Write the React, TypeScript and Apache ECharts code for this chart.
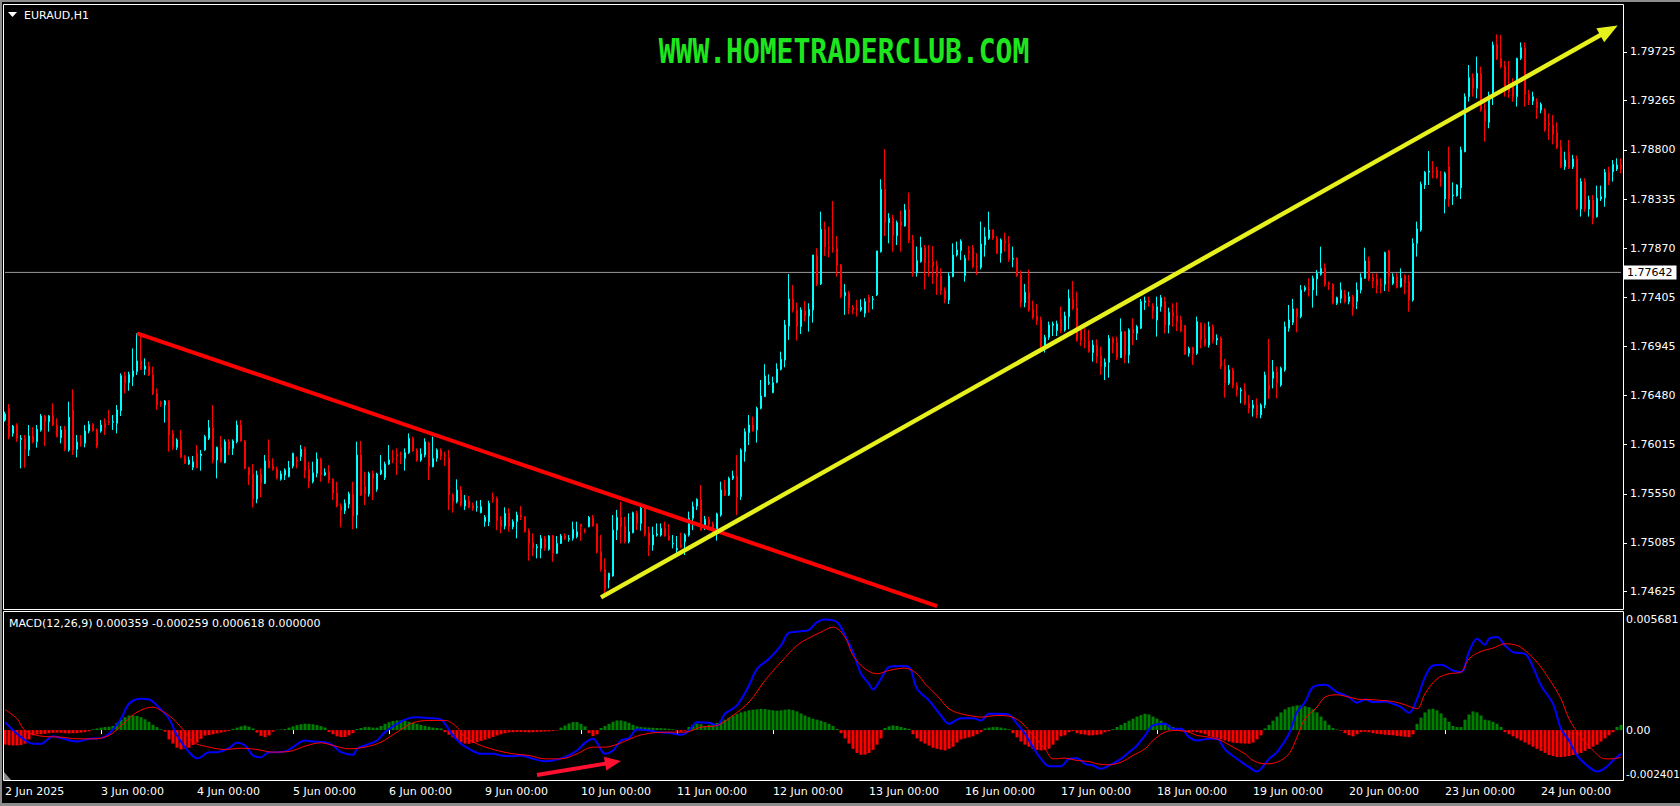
import React, { useEffect, useRef } from 'react';
import * as echarts from 'echarts';

const FONT = 'Tahoma, "DejaVu Sans", sans-serif';

const tradingDays = ['2 Jun', '3 Jun', '4 Jun', '5 Jun', '6 Jun', '9 Jun', '10 Jun', '11 Jun', '12 Jun', '13 Jun', '16 Jun', '17 Jun', '18 Jun', '19 Jun', '20 Jun', '23 Jun', '24 Jun'];
const firstDateLabel = '2 Jun 2025';

// hourly bars per day: [open, high, low, close]
const jun02 = [
[1.76247,1.76326,1.76231,1.76304],[1.76357,1.76398,1.76064,1.76090],[1.76121,1.76200,1.76090,1.76190],[1.76200,1.76216,1.76042,1.76074],
[1.76064,1.76105,1.75790,1.76074],[1.76074,1.76105,1.75797,1.75970],[1.75964,1.76200,1.75907,1.76096],[1.76096,1.76178,1.76027,1.76042],
[1.76042,1.76200,1.75986,1.76159],[1.76153,1.76304,1.76137,1.76285],[1.76285,1.76294,1.76001,1.76231],[1.76231,1.76294,1.76137,1.76285],
[1.76285,1.76405,1.76190,1.76200],[1.76200,1.76263,1.76083,1.76090],[1.76080,1.76190,1.76027,1.76153],[1.76159,1.76190,1.75954,1.75970],
[1.75964,1.76420,1.75948,1.76272],[1.76342,1.76537,1.75916,1.75964],[1.75970,1.76105,1.75894,1.76039],[1.76039,1.76105,1.75995,1.76033],
[1.76027,1.76200,1.75989,1.76143],[1.76143,1.76238,1.76121,1.76206],[1.76206,1.76216,1.76137,1.76146],[1.76153,1.76168,1.75979,1.76001]];
const jun03 = [
[1.76143,1.76247,1.76127,1.76200],[1.76216,1.76263,1.76105,1.76175],[1.76234,1.76342,1.76200,1.76225],[1.76225,1.76294,1.76153,1.76234],
[1.76216,1.76389,1.76121,1.76342],[1.76335,1.76688,1.76285,1.76666],[1.76666,1.76704,1.76499,1.76594],[1.76600,1.76704,1.76524,1.76679],
[1.76657,1.76924,1.76568,1.76710],[1.76704,1.77066,1.76672,1.76805],[1.76805,1.77040,1.76720,1.76726],[1.76726,1.76830,1.76672,1.76757],
[1.76757,1.76798,1.76663,1.76672],[1.76672,1.76751,1.76483,1.76493],[1.76499,1.76546,1.76342,1.76389],[1.76411,1.76430,1.76373,1.76401],
[1.76389,1.76436,1.76222,1.76427],[1.76427,1.76436,1.75948,1.76105],[1.76121,1.76153,1.75964,1.75989],[1.75989,1.76074,1.75964,1.76058],
[1.76058,1.76153,1.75885,1.75894],[1.75901,1.75916,1.75831,1.75838],[1.75831,1.75901,1.75822,1.75869],[1.75800,1.75907,1.75774,1.75853]];
const jun04 = [
[1.75932,1.76011,1.75790,1.75797],[1.75910,1.75964,1.75768,1.75926],[1.75964,1.76105,1.75957,1.76090],[1.76074,1.76247,1.76058,1.76175],
[1.76175,1.76389,1.75838,1.75869],[1.75869,1.75995,1.75696,1.75989],[1.75989,1.76096,1.75844,1.75853],[1.75844,1.76064,1.75838,1.76042],
[1.76042,1.76064,1.75916,1.75970],[1.75979,1.76064,1.75916,1.76049],[1.76042,1.76241,1.76027,1.76200],[1.76200,1.76247,1.76042,1.76049],
[1.76049,1.76058,1.75781,1.75790],[1.75797,1.75806,1.75633,1.75727],[1.75737,1.75831,1.75422,1.75501],[1.75501,1.75768,1.75460,1.75727],
[1.75734,1.75790,1.75516,1.75649],[1.75649,1.75916,1.75642,1.75860],[1.75860,1.76064,1.75790,1.75797],[1.75812,1.75885,1.75768,1.75781],
[1.75784,1.75806,1.75686,1.75696],[1.75686,1.75768,1.75674,1.75737],[1.75727,1.75790,1.75680,1.75774],[1.75712,1.75860,1.75705,1.75797]];
const jun05 = [
[1.75812,1.75938,1.75790,1.75932],[1.75869,1.75901,1.75790,1.75860],[1.75901,1.76011,1.75860,1.75970],[1.75976,1.75995,1.75696,1.75768],
[1.75784,1.75853,1.75601,1.75664],[1.75664,1.75853,1.75648,1.75749],[1.75743,1.75941,1.75705,1.75878],[1.75878,1.75891,1.75664,1.75727],
[1.75727,1.75790,1.75718,1.75752],[1.75756,1.75822,1.75649,1.75680],[1.75689,1.75696,1.75491,1.75554],[1.75560,1.75664,1.75422,1.75434],
[1.75434,1.75460,1.75233,1.75390],[1.75390,1.75497,1.75359,1.75460],[1.75453,1.75570,1.75412,1.75548],[1.75548,1.75664,1.75214,1.75340],
[1.75349,1.76042,1.75223,1.75916],[1.75916,1.76049,1.75529,1.75538],[1.75617,1.75759,1.75444,1.75548],[1.75548,1.75759,1.75523,1.75743],
[1.75743,1.75768,1.75491,1.75696],[1.75592,1.75749,1.75570,1.75737],[1.75737,1.75916,1.75727,1.75774],[1.75702,1.75853,1.75680,1.75831]];
const jun06 = [
[1.75831,1.76011,1.75822,1.75869],[1.75885,1.75964,1.75838,1.75875],[1.75923,1.75979,1.75727,1.75907],[1.75926,1.75948,1.75831,1.75916],
[1.75885,1.75979,1.75768,1.75938],[1.75938,1.76121,1.75926,1.76074],[1.76074,1.76090,1.75948,1.75957],[1.75964,1.75979,1.75853,1.75869],
[1.75869,1.75979,1.75853,1.75926],[1.75916,1.76074,1.75894,1.76042],[1.76027,1.76042,1.75680,1.75806],[1.75806,1.76090,1.75800,1.75885],
[1.75885,1.75979,1.75853,1.75964],[1.75964,1.75979,1.75869,1.75907],[1.75916,1.75948,1.75812,1.75901],[1.75891,1.75964,1.75397,1.75538],
[1.75538,1.75554,1.75371,1.75475],[1.75475,1.75686,1.75460,1.75585],[1.75585,1.75623,1.75428,1.75444],[1.75434,1.75538,1.75397,1.75491],
[1.75485,1.75529,1.75412,1.75422],[1.75437,1.75466,1.75390,1.75412],[1.75422,1.75485,1.75381,1.75428],[1.75371,1.75491,1.75365,1.75428]];
const jun09 = [
[1.75286,1.75349,1.75239,1.75327],[1.75286,1.75485,1.75245,1.75460],[1.75516,1.75560,1.75466,1.75504],[1.75507,1.75523,1.75207,1.75296],
[1.75302,1.75340,1.75176,1.75239],[1.75245,1.75422,1.75214,1.75365],[1.75371,1.75412,1.75192,1.75239],[1.75239,1.75308,1.75214,1.75286],
[1.75286,1.75381,1.75129,1.75349],[1.75349,1.75434,1.75302,1.75327],[1.75333,1.75340,1.75182,1.75192],[1.75201,1.75223,1.74918,1.75081],
[1.75091,1.75176,1.74962,1.75034],[1.75041,1.75075,1.74940,1.75050],[1.75034,1.75160,1.74940,1.75129],[1.75129,1.75151,1.75012,1.75034],
[1.75025,1.75160,1.75012,1.75151],[1.75151,1.75160,1.74908,1.74987],[1.74987,1.75151,1.74981,1.75081],[1.75081,1.75170,1.75075,1.75151],
[1.75151,1.75176,1.75113,1.75129],[1.75119,1.75160,1.75097,1.75129],[1.75129,1.75286,1.75107,1.75214],[1.75145,1.75286,1.75129,1.75192]];
const jun10 = [
[1.75264,1.75264,1.75107,1.75239],[1.75207,1.75223,1.75176,1.75198],[1.75239,1.75340,1.75233,1.75327],[1.75327,1.75349,1.75239,1.75245],
[1.75264,1.75270,1.74987,1.75003],[1.75003,1.75160,1.74814,1.74836],[1.74836,1.74940,1.74609,1.74647],[1.74735,1.74804,1.74656,1.74798],
[1.74773,1.75349,1.74767,1.75207],[1.75207,1.75397,1.75113,1.75327],[1.75327,1.75475,1.75081,1.75239],[1.75245,1.75333,1.75081,1.75097],
[1.75097,1.75365,1.75081,1.75192],[1.75182,1.75381,1.75176,1.75371],[1.75371,1.75390,1.75207,1.75270],[1.75270,1.75434,1.75201,1.75412],
[1.75412,1.75422,1.75145,1.75170],[1.75182,1.75239,1.74962,1.75066],[1.75066,1.75239,1.75012,1.75160],[1.75160,1.75270,1.75145,1.75170],
[1.75160,1.75270,1.75145,1.75223],[1.75223,1.75286,1.75145,1.75151],[1.75151,1.75264,1.75107,1.75113],[1.75075,1.75160,1.75034,1.75081]];
const jun11 = [
[1.75019,1.75151,1.74987,1.75034],[1.75066,1.75182,1.75034,1.75050],[1.75097,1.75176,1.74971,1.75160],[1.75160,1.75381,1.75145,1.75318],
[1.75318,1.75475,1.75207,1.75428],[1.75434,1.75507,1.75397,1.75497],[1.75497,1.75633,1.75201,1.75207],[1.75245,1.75340,1.75207,1.75308],
[1.75308,1.75333,1.75223,1.75255],[1.75264,1.75286,1.75192,1.75214],[1.75214,1.75371,1.75107,1.75359],[1.75349,1.75664,1.75333,1.75585],
[1.75585,1.75680,1.75529,1.75538],[1.75538,1.75711,1.75529,1.75696],[1.75696,1.75768,1.75680,1.75718],[1.75718,1.75916,1.75349,1.75516],
[1.75523,1.75979,1.75491,1.75964],[1.75948,1.76168,1.75853,1.76137],[1.76127,1.76294,1.76011,1.76200],[1.76200,1.76279,1.76137,1.76146],
[1.76153,1.76373,1.76033,1.76357],[1.76357,1.76625,1.76348,1.76474],[1.76468,1.76774,1.76468,1.76663],[1.76594,1.76679,1.76578,1.76603]];
const jun12 = [
[1.76506,1.76657,1.76500,1.76600],[1.76603,1.76783,1.76594,1.76729],[1.76726,1.76893,1.76714,1.76821],[1.76815,1.77193,1.76745,1.77145],
[1.77136,1.77627,1.77004,1.77391],[1.77391,1.77523,1.77262,1.77287],[1.77287,1.77356,1.76997,1.77130],[1.77130,1.77312,1.77060,1.77287],
[1.77278,1.77372,1.77177,1.77230],[1.77230,1.77350,1.77082,1.77293],[1.77287,1.77807,1.77167,1.77807],[1.77797,1.77870,1.77514,1.77533],
[1.77533,1.78216,1.77523,1.78049],[1.78049,1.78122,1.77797,1.77879],[1.77879,1.78075,1.77785,1.77867],[1.77873,1.78317,1.77829,1.77863],
[1.77870,1.77986,1.77602,1.77703],[1.77712,1.77722,1.77397,1.77413],[1.77422,1.77533,1.77240,1.77454],[1.77445,1.77467,1.77246,1.77309],
[1.77312,1.77334,1.77246,1.77287],[1.77303,1.77382,1.77224,1.77287],[1.77287,1.77388,1.77271,1.77312],[1.77256,1.77397,1.77218,1.77366]];
const jun13 = [
[1.77407,1.77429,1.77262,1.77356],[1.77385,1.77419,1.77293,1.77391],[1.77429,1.77845,1.77419,1.77845],[1.77838,1.78522,1.77829,1.78427],
[1.78427,1.78808,1.77986,1.78112],[1.78112,1.78201,1.77917,1.78153],[1.78153,1.78185,1.77838,1.77989],[1.77989,1.78131,1.77901,1.78112],
[1.78122,1.78226,1.77838,1.78081],[1.78081,1.78289,1.78075,1.78232],[1.78238,1.78396,1.77917,1.77942],[1.77949,1.77996,1.77602,1.77640],
[1.77640,1.77886,1.77602,1.77753],[1.77744,1.77980,1.77734,1.77876],[1.77876,1.77901,1.77482,1.77734],[1.77744,1.77901,1.77602,1.77734],
[1.77744,1.77892,1.77533,1.77697],[1.77703,1.77753,1.77429,1.77602],[1.77608,1.77681,1.77429,1.77470],[1.77476,1.77501,1.77350,1.77388],
[1.77382,1.77640,1.77344,1.77608],[1.77602,1.77917,1.77596,1.77807],[1.77807,1.77933,1.77791,1.77854],[1.77848,1.77955,1.77760,1.77939]];
const jun16 = [
[1.77611,1.77807,1.77555,1.77775],[1.77845,1.77892,1.77753,1.77823],[1.77876,1.77901,1.77681,1.77697],[1.77703,1.77823,1.77618,1.77690],
[1.77690,1.78122,1.77671,1.77911],[1.77901,1.78068,1.77791,1.77980],[1.77964,1.78216,1.77949,1.78043],[1.78043,1.78049,1.77949,1.77964],
[1.77964,1.77986,1.77816,1.77823],[1.77823,1.77964,1.77734,1.77949],[1.77942,1.78018,1.77838,1.77917],[1.77917,1.77986,1.77744,1.77766],
[1.77766,1.77886,1.77690,1.77775],[1.77775,1.77785,1.77602,1.77608],[1.77618,1.77659,1.77312,1.77356],[1.77356,1.77533,1.77312,1.77454],
[1.77454,1.77671,1.77271,1.77287],[1.77293,1.77375,1.77199,1.77218],[1.77230,1.77344,1.77145,1.77186],[1.77193,1.77224,1.76925,1.76947],
[1.76947,1.77051,1.76884,1.77029],[1.77029,1.77177,1.77004,1.77145],[1.77142,1.77177,1.77041,1.77155],[1.77092,1.77186,1.77041,1.77155]];
const jun17 = [
[1.77199,1.77319,1.77067,1.77092],[1.77098,1.77271,1.77082,1.77230],[1.77224,1.77482,1.77104,1.77397],[1.77388,1.77561,1.77287,1.77303],
[1.77309,1.77460,1.76988,1.76997],[1.77098,1.77145,1.76947,1.76997],[1.76997,1.77114,1.76925,1.76991],[1.76997,1.77098,1.76884,1.76893],
[1.76884,1.77004,1.76799,1.76956],[1.76956,1.77010,1.76783,1.76846],[1.76855,1.76940,1.76672,1.76751],[1.76751,1.76830,1.76625,1.76792],
[1.76792,1.77050,1.76647,1.77019],[1.77019,1.77035,1.76877,1.76972],[1.76981,1.77035,1.76814,1.76836],[1.76836,1.77208,1.76836,1.77082],
[1.77082,1.77088,1.76783,1.76862],[1.76862,1.77114,1.76783,1.77098],[1.77107,1.77208,1.76956,1.77066],[1.77066,1.77145,1.77003,1.77129],
[1.77114,1.77391,1.77107,1.77366],[1.77359,1.77413,1.77287,1.77372],[1.77372,1.77413,1.77318,1.77359],[1.77325,1.77350,1.77202,1.77277]];
const jun18 = [
[1.77192,1.77413,1.77035,1.77318],[1.77318,1.77428,1.77271,1.77403],[1.77366,1.77413,1.77066,1.77145],[1.77145,1.77309,1.77066,1.77265],
[1.77265,1.77350,1.77129,1.77224],[1.77233,1.77359,1.77088,1.77177],[1.77192,1.77233,1.77076,1.77088],[1.77139,1.77145,1.76862,1.76868],
[1.76877,1.76940,1.76846,1.76925],[1.76931,1.76940,1.76767,1.76877],[1.76877,1.77224,1.76862,1.77177],[1.77161,1.77170,1.76925,1.77003],
[1.77019,1.77161,1.76940,1.76956],[1.76956,1.77177,1.76931,1.77129],[1.77129,1.77151,1.76972,1.77003],[1.77003,1.77057,1.76956,1.77019],
[1.77019,1.77035,1.76729,1.76751],[1.76761,1.76824,1.76458,1.76594],[1.76594,1.76767,1.76578,1.76720],[1.76720,1.76742,1.76547,1.76572],
[1.76578,1.76603,1.76468,1.76531],[1.76521,1.76553,1.76405,1.76531],[1.76521,1.76594,1.76389,1.76405],[1.76405,1.76484,1.76310,1.76358]];
const jun19 = [
[1.76358,1.76436,1.76279,1.76389],[1.76389,1.76452,1.76263,1.76295],[1.76295,1.76405,1.76263,1.76389],[1.76389,1.76704,1.76358,1.76672],
[1.76578,1.77013,1.76446,1.76531],[1.76641,1.76814,1.76546,1.76704],[1.76704,1.76751,1.76452,1.76594],[1.76578,1.76751,1.76562,1.76736],
[1.76720,1.77177,1.76704,1.77129],[1.77114,1.77334,1.77082,1.77192],[1.77170,1.77391,1.77145,1.77296],[1.77296,1.77303,1.77076,1.77224],
[1.77224,1.77523,1.77208,1.77476],[1.77476,1.77517,1.77460,1.77498],[1.77485,1.77586,1.77413,1.77476],[1.77476,1.77611,1.77309,1.77586],
[1.77580,1.77665,1.77422,1.77633],[1.77624,1.77885,1.77611,1.77680],[1.77687,1.77728,1.77507,1.77529],[1.77539,1.77555,1.77476,1.77529],
[1.77529,1.77539,1.77340,1.77350],[1.77350,1.77413,1.77334,1.77403],[1.77397,1.77548,1.77350,1.77476],[1.77435,1.77476,1.77350,1.77366]];
const jun20 = [
[1.77366,1.77460,1.77340,1.77413],[1.77413,1.77428,1.77233,1.77309],[1.77366,1.77548,1.77296,1.77476],[1.77476,1.77633,1.77444,1.77592],
[1.77586,1.77876,1.77580,1.77750],[1.77750,1.77791,1.77561,1.77580],[1.77592,1.77633,1.77492,1.77561],[1.77580,1.77633,1.77444,1.77517],
[1.77529,1.77586,1.77444,1.77517],[1.77529,1.77838,1.77466,1.77829],[1.77844,1.77854,1.77460,1.77602],[1.77539,1.77633,1.77523,1.77602],
[1.77602,1.77633,1.77491,1.77498],[1.77507,1.77680,1.77498,1.77586],[1.77611,1.77624,1.77435,1.77539],[1.77555,1.77618,1.77271,1.77381],
[1.77381,1.77964,1.77366,1.77917],[1.77917,1.78122,1.77791,1.78052],[1.78043,1.78500,1.78027,1.78474],[1.78468,1.78600,1.78430,1.78588],
[1.78588,1.78789,1.78468,1.78600],[1.78600,1.78695,1.78531,1.78588],[1.78610,1.78641,1.78525,1.78537],[1.78506,1.78600,1.78452,1.78506]];
const jun23 = [
[1.78336,1.78594,1.78200,1.78578],[1.78641,1.78830,1.78263,1.78336],[1.78367,1.78493,1.78279,1.78374],[1.78367,1.78474,1.78358,1.78468],
[1.78443,1.78830,1.78336,1.78799],[1.78783,1.79334,1.78777,1.79303],[1.79303,1.79602,1.79256,1.79482],[1.79482,1.79523,1.79303,1.79382],
[1.79382,1.79681,1.79287,1.79523],[1.79523,1.79586,1.79161,1.79177],[1.79186,1.79240,1.78878,1.79067],[1.79060,1.79350,1.79004,1.79319],
[1.79312,1.79822,1.79224,1.79791],[1.79797,1.79892,1.79649,1.79659],[1.79665,1.79885,1.79571,1.79586],[1.79593,1.79640,1.79303,1.79397],
[1.79404,1.79640,1.79293,1.79350],[1.79397,1.79476,1.79256,1.79303],[1.79303,1.79671,1.79208,1.79665],[1.79665,1.79816,1.79649,1.79766],
[1.79766,1.79816,1.79208,1.79319],[1.79325,1.79366,1.79224,1.79271],[1.79262,1.79350,1.79224,1.79303],[1.79256,1.79287,1.79092,1.79193]];
const jun24 = [
[1.79177,1.79249,1.79145,1.79230],[1.79177,1.79193,1.78972,1.78988],[1.79051,1.79145,1.78893,1.79035],[1.79035,1.79130,1.78852,1.78947],
[1.78966,1.79060,1.78808,1.78821],[1.78830,1.78893,1.78626,1.78641],[1.78641,1.78783,1.78610,1.78704],[1.78777,1.78893,1.78619,1.78632],
[1.78641,1.78752,1.78619,1.78714],[1.78714,1.78745,1.78232,1.78247],[1.78241,1.78531,1.78169,1.78500],[1.78500,1.78531,1.78216,1.78241],
[1.78241,1.78367,1.78169,1.78326],[1.78326,1.78373,1.78096,1.78153],[1.78169,1.78462,1.78159,1.78342],[1.78336,1.78462,1.78317,1.78358],
[1.78348,1.78619,1.78263,1.78588],[1.78588,1.78641,1.78468,1.78506],[1.78594,1.78704,1.78500,1.78663],[1.78619,1.78720,1.78600,1.78657],
[1.78657,1.78720,1.78578,1.78619]];

const priceTicks = [1.74625, 1.75085, 1.75550, 1.76015, 1.76480, 1.76945, 1.77405, 1.77870, 1.78335, 1.78800, 1.79265, 1.79725];
const priceMin = 1.74461;
const priceMax = 1.80169;
const levelLine = 1.77642;

const macdTicks = [-0.002401, 0, 0.005681];
const macdMin = -0.002401;
const macdMax = 0.005681;

// trend lines anchored as [bar index, price]
const downTrend = [[33, 1.77066], [233, 1.74489]];
const upTrend = [[149, 1.74571], [401, 1.79930]];
const macdArrow = [[133, -0.002165], [152, -0.001554]];

// MACD main line [bar index, value]
const macdMain = [
[0,0.000383],[4,-0.000339],[7,-0.000660],[9,-0.000660],[12,-0.000291],[14,-0.000387],[18,-0.000547],[21,-0.000419],[24,-0.000387],[26,-0.000178],
[29,0.000543],[31,0.001265],[34,0.001506],[36,0.001474],[38,0.001185],[41,0.000543],[43,-0.000259],[46,-0.001061],[48,-0.001350],[49,-0.001301],
[51,-0.001061],[53,-0.001061],[56,-0.000868],[58,-0.000612],[60,-0.000740],[62,-0.001221],[64,-0.001301],[66,-0.001061],[68,-0.001061],[70,-0.001029],
[72,-0.000820],[75,-0.000499],[77,-0.000547],[80,-0.000580],[82,-0.000740],[84,-0.001061],[87,-0.001189],[88,-0.000900],[90,-0.000740],[93,-0.000499],
[95,-0.000098],[98,0.000303],[101,0.000575],[103,0.000623],[106,0.000575],[109,0.000511],[110,0.000303],[112,-0.000259],[114,-0.000660],[116,-0.000900],
[119,-0.001141],[122,-0.001141],[124,-0.001221],[127,-0.001253],[129,-0.001221],[132,-0.001382],[135,-0.001494],[137,-0.001462],[140,-0.001301],[143,-0.000980],
[145,-0.000612],[147,-0.000419],[148,-0.000612],[150,-0.001141],[152,-0.000980],[154,-0.000499],[156,-0.000387],[158,0.000030],[161,-0.000018],[163,-0.000098],
[166,-0.000131],[169,-0.000227],[171,-0.000018],[173,0.000383],[176,0.000351],[178,0.000222],[180,0.000784],[183,0.001185],[186,0.002147],[188,0.002949],
[191,0.003430],[194,0.004072],[196,0.004682],[199,0.004750],[201,0.004820],[203,0.005195],[205,0.005323],[208,0.005195],[210,0.004553],[212,0.003751],
[214,0.002709],[216,0.002227],[217,0.001955],[219,0.002468],[221,0.003029],[224,0.003078],[226,0.003029],[228,0.001987],[231,0.001426],[234,0.000703],
[236,0.000303],[239,0.000575],[242,0.000575],[244,0.000463],[246,0.000784],[248,0.000784],[251,0.000736],[253,0.000303],[255,-0.000178],[257,-0.000820],
[259,-0.001382],[261,-0.001735],[264,-0.001735],[266,-0.001382],[268,-0.001350],[270,-0.001622],[272,-0.001702],[274,-0.001863],[276,-0.001702],[279,-0.001382],
[281,-0.001061],[283,-0.000740],[285,-0.000259],[287,0.000222],[290,0.000303],[292,0.000062],[294,0.000062],[296,-0.000339],[298,-0.000499],[301,-0.000419],
[303,-0.000419],[305,-0.000933],[308,-0.001382],[311,-0.001783],[313,-0.001991],[314,-0.001863],[316,-0.001382],[318,-0.001061],[321,-0.000178],[323,0.000864],
[325,0.001346],[327,0.002067],[330,0.002179],[333,0.001826],[336,0.001586],[338,0.001313],[340,0.001474],[342,0.001346],[345,0.001377],[347,0.001265],
[349,0.001105],[351,0.000832],[353,0.001506],[355,0.002548],[357,0.003110],[359,0.003142],[362,0.002869],[364,0.002789],[366,0.003751],[368,0.004393],
[370,0.004104],[371,0.004393],[373,0.004473],[375,0.004072],[377,0.003751],[380,0.003671],[382,0.003029],[384,0.002147],[387,0.001265],[389,0.000062],
[391,-0.000499],[393,-0.001221],[396,-0.001783],[398,-0.001991],[400,-0.001831],[402,-0.001462],[404,-0.001141]];

// MACD signal line [bar index, value]
const macdSignal = [
[0,0.000992],[3,0.000543],[5,-0.000018],[9,-0.000291],[14,-0.000339],[18,-0.000419],[22,-0.000419],[26,-0.000259],[30,0.000383],[33,0.000864],
[37,0.001105],[39,0.000944],[42,0.000543],[45,-0.000098],[47,-0.000580],[51,-0.000820],[55,-0.000933],[59,-0.000868],[63,-0.000933],[67,-0.001061],
[71,-0.001029],[75,-0.000772],[79,-0.000612],[82,-0.000740],[86,-0.000900],[90,-0.000820],[94,-0.000580],[98,-0.000098],[102,0.000351],[106,0.000463],
[110,0.000463],[113,0.000142],[115,-0.000339],[119,-0.000740],[123,-0.000980],[127,-0.001141],[131,-0.001221],[135,-0.001382],[139,-0.001382],[143,-0.001141],
[147,-0.000820],[150,-0.000820],[154,-0.000612],[158,-0.000291],[162,-0.000131],[166,-0.000098],[170,-0.000098],[174,0.000142],[178,0.000222],[182,0.000704],
[186,0.001346],[190,0.002388],[194,0.003270],[198,0.004072],[201,0.004433],[204,0.004714],[207,0.004954],[210,0.004473],[212,0.003591],[215,0.002949],
[218,0.002709],[221,0.002869],[225,0.002981],[228,0.002709],[230,0.002227],[233,0.001666],[236,0.001024],[239,0.000784],[242,0.000672],[244,0.000623],
[248,0.000704],[251,0.000672],[254,0.000383],[257,-0.000259],[260,-0.000900],[262,-0.001382],[265,-0.001350],[268,-0.001462],[271,-0.001510],[273,-0.001622],
[276,-0.001670],[279,-0.001542],[282,-0.001221],[285,-0.000900],[287,-0.000499],[290,-0.000098],[293,-0.000018],[296,-0.000098],[298,-0.000259],[301,-0.000339],
[304,-0.000499],[307,-0.000820],[310,-0.001141],[312,-0.001462],[315,-0.001622],[318,-0.001542],[321,-0.001141],[323,-0.000339],[325,0.000543],[328,0.001105],
[330,0.001586],[333,0.001698],[336,0.001586],[339,0.001474],[341,0.001474],[344,0.001426],[347,0.001377],[350,0.001217],[353,0.001024],[355,0.001746],
[358,0.002468],[361,0.002709],[364,0.002789],[366,0.003430],[369,0.003783],[372,0.003944],[375,0.004152],[378,0.004072],[380,0.003831],[383,0.003270],
[386,0.002468],[389,0.001506],[391,0.000543],[394,-0.000339],[397,-0.000980],[400,-0.001382],[402,-0.001382],[404,-0.001301]];

// MACD histogram, one value per bar
const histogram = [
-0.000700,-0.000730,-0.000740,-0.000740,-0.000720,-0.000650,-0.000450,-0.000250,-0.000200,-0.000200,-0.000180,-0.000150,-0.000130,-0.000120,-0.000130,-0.000150,-0.000160,-0.000150,-0.000140,-0.000120,-0.000100,-0.000060,0.000040,0.000080,
0.000120,0.000144,0.000160,0.000200,0.000350,0.000500,0.000620,0.000700,0.000706,0.000680,0.000620,0.000520,0.000400,0.000260,0.000140,0.000040,-0.000080,-0.000450,-0.000650,-0.000850,-0.000930,-0.000900,-0.000850,-0.000720,
-0.000600,-0.000420,-0.000260,-0.000240,-0.000200,-0.000160,-0.000120,-0.000080,-0.000040,0.000060,0.000120,0.000180,0.000220,0.000160,0.000080,-0.000120,-0.000280,-0.000337,-0.000260,-0.000080,0.000020,0.000030,0.000050,0.000120,
0.000180,0.000240,0.000280,0.000305,0.000300,0.000280,0.000240,0.000190,0.000120,-0.000100,-0.000200,-0.000300,-0.000337,-0.000330,-0.000250,-0.000150,0.000050,0.000100,0.000144,0.000144,0.000120,0.000120,0.000200,0.000300,
0.000380,0.000440,0.000465,0.000465,0.000450,0.000400,0.000350,0.000300,0.000250,0.000200,0.000160,0.000120,0.000100,0.000080,-0.000100,-0.000220,-0.000350,-0.000480,-0.000580,-0.000650,-0.000657,-0.000620,-0.000580,-0.000520,
-0.000460,-0.000400,-0.000330,-0.000260,-0.000200,-0.000150,-0.000110,-0.000100,-0.000090,-0.000090,-0.000100,-0.000110,-0.000100,-0.000090,-0.000080,-0.000070,-0.000060,-0.000040,-0.000020,0.000120,0.000220,0.000320,0.000385,0.000385,
0.000300,0.000180,-0.000150,-0.000289,-0.000200,0.000100,0.000200,0.000300,0.000400,0.000465,0.000465,0.000420,0.000350,0.000250,0.000180,0.000144,0.000130,0.000120,0.000110,0.000100,0.000090,0.000080,0.000060,0.000040,
-0.000060,-0.000080,-0.000040,0.000150,0.000250,0.000305,0.000280,0.000200,0.000250,0.000300,0.000350,0.000420,0.000500,0.000600,0.000700,0.000780,0.000850,0.000900,0.000950,0.000980,0.001000,0.001026,0.001010,0.000980,
0.000950,0.000930,0.000950,0.000980,0.001000,0.000960,0.000900,0.000800,0.000700,0.000620,0.000545,0.000500,0.000450,0.000380,0.000300,0.000200,0.000060,-0.000150,-0.000400,-0.000650,-0.000900,-0.001100,-0.001187,-0.001180,
-0.001100,-0.000950,-0.000700,-0.000400,0.000100,0.000180,0.000225,0.000200,0.000150,0.000100,0.000060,-0.000200,-0.000400,-0.000550,-0.000650,-0.000750,-0.000850,-0.000900,-0.000950,-0.000978,-0.000900,-0.000800,-0.000600,-0.000450,
-0.000400,-0.000350,-0.000300,-0.000200,-0.000100,0.000080,0.000120,0.000144,0.000144,0.000120,0.000080,0.000040,-0.000150,-0.000350,-0.000550,-0.000700,-0.000800,-0.000900,-0.000950,-0.000978,-0.000960,-0.000900,-0.000700,-0.000500,
-0.000300,-0.000250,-0.000100,-0.000050,-0.000150,-0.000200,-0.000220,-0.000257,-0.000250,-0.000230,-0.000200,-0.000100,-0.000050,0.000050,0.000150,0.000250,0.000350,0.000450,0.000550,0.000650,0.000720,0.000786,0.000750,0.000650,
0.000550,0.000450,0.000350,0.000250,0.000150,0.000080,-0.000050,-0.000100,-0.000100,-0.000080,-0.000100,-0.000150,-0.000200,-0.000300,-0.000350,-0.000400,-0.000450,-0.000500,-0.000550,-0.000600,-0.000620,-0.000640,-0.000650,-0.000657,
-0.000600,-0.000450,-0.000250,0.000080,0.000250,0.000450,0.000650,0.000850,0.001000,0.001100,0.001150,0.001187,0.001187,0.001150,0.001100,0.001000,0.000850,0.000650,0.000450,0.000250,0.000100,0.000030,-0.000030,-0.000150,
-0.000250,-0.000300,-0.000200,-0.000100,-0.000080,-0.000100,-0.000150,-0.000180,-0.000200,-0.000220,-0.000240,-0.000250,-0.000280,-0.000300,-0.000320,-0.000337,-0.000200,0.000300,0.000600,0.000850,0.001000,0.001026,0.000950,0.000800,
0.000600,0.000400,0.000200,0.000150,0.000144,0.000500,0.000750,0.000898,0.000850,0.000700,0.000500,0.000465,0.000400,0.000300,0.000150,-0.000100,-0.000200,-0.000300,-0.000400,-0.000500,-0.000600,-0.000700,-0.000800,-0.000900,
-0.001000,-0.001100,-0.001200,-0.001250,-0.001299,-0.001299,-0.001280,-0.001250,-0.001200,-0.001150,-0.001100,-0.001000,-0.000900,-0.000800,-0.000700,-0.000550,-0.000400,-0.000250,-0.000100,0.000150,0.000250];

const bars = [...jun02, ...jun03, ...jun04, ...jun05, ...jun06, ...jun09, ...jun10, ...jun11, ...jun12, ...jun13,
  ...jun16, ...jun17, ...jun18, ...jun19, ...jun20, ...jun23, ...jun24];

export default function App() {
  const ref = useRef<HTMLDivElement>(null);
  useEffect(() => {
    if (!ref.current) return;
    const chart = echarts.init(ref.current, null, { renderer: 'svg' });
    const hours = Array.from({ length: 24 }, (_, h) => `${String(h).padStart(2, '0')}:00`);
    const categories = tradingDays.flatMap((d) => hours.map((h) => `${d} ${h}`)).slice(0, bars.length);
    const dayStarts = new Set(tradingDays.map((_, i) => i * 24));
    const isDayStart = (index: number) => dayStarts.has(index);
    const cat = (i: number) => categories[i];
    const lastIndex = bars.length - 1;

    const candleData = bars.map(([o, h, l, c]) => [o, c, l, h]);
    const histData = histogram.map((v) => ({ value: v, itemStyle: { color: v >= 0 ? '#008000' : '#ff0000' } }));

    const labelStyle = { color: '#ffffff', fontSize: 11, fontFamily: FONT };

    const option: any = {
      animation: false,
      backgroundColor: '#000000',
      grid: [
        { left: 3, top: 5, width: 1620, height: 604, containLabel: false, outerBoundsMode: 'none' },
        { left: 3, top: 612, width: 1620, height: 168, containLabel: false, outerBoundsMode: 'none' },
      ],
      xAxis: [
        {
          type: 'category', gridIndex: 0, data: categories, boundaryGap: true,
          axisLine: { show: false }, axisTick: { show: false }, axisLabel: { show: false }, splitLine: { show: false },
        },
        {
          type: 'category', gridIndex: 1, data: categories, boundaryGap: true,
          axisLine: { show: false }, splitLine: { show: false },
          axisTick: { show: true, alignWithLabel: true, length: 4, interval: isDayStart, lineStyle: { color: '#ffffff', width: 1 } },
          axisLabel: {
            show: true, interval: isDayStart, align: 'left', margin: 6, ...labelStyle,
            formatter: (v: string, i: number) => (i === 0 ? firstDateLabel : v),
          },
        },
      ],
      yAxis: [
        {
          type: 'value', gridIndex: 0, position: 'right', min: priceMin, max: priceMax,
          axisLine: { show: false }, splitLine: { show: false },
          axisTick: { show: true, length: 4, customValues: priceTicks, lineStyle: { color: '#ffffff' } },
          axisLabel: { show: true, customValues: priceTicks, margin: 7, ...labelStyle, formatter: (v: number) => v.toFixed(5) },
        },
        {
          type: 'value', gridIndex: 1, position: 'right', min: macdMin, max: macdMax,
          axisLine: { show: false }, splitLine: { show: false },
          axisTick: { show: false },
          axisLabel: {
            show: true, customValues: macdTicks, margin: 3, showMinLabel: true, showMaxLabel: true, ...labelStyle,
            formatter: (v: number) => (v === 0 ? '{m|0.00}' : v > 0 ? `{t|${v.toFixed(6)}}` : `{b|${v.toFixed(6)}}`),
            rich: {
              m: { ...labelStyle },
              t: { ...labelStyle, padding: [14, 0, 0, 0] },
              b: { ...labelStyle, fontSize: 10.5, padding: [0, 0, 12, 0] },
            },
          },
        },
      ],
      series: [
        {
          type: 'line', name: 'Level', xAxisIndex: 0, yAxisIndex: 0, z: 1,
          data: [[cat(0), levelLine], [cat(lastIndex), levelLine]],
          symbol: 'none', showSymbol: false, silent: true,
          lineStyle: { color: '#9a9a9a', width: 1 }, emphasis: { disabled: true },
          endLabel: {
            show: true, distance: 3, formatter: () => levelLine.toFixed(5),
            color: '#000000', backgroundColor: '#ffffff', padding: [2, 4, 1, 3], fontSize: 11, fontFamily: FONT,
          },
        },
        {
          type: 'candlestick', name: 'EURAUD', xAxisIndex: 0, yAxisIndex: 0, data: candleData, barWidth: 2, z: 2,
          itemStyle: { color: '#00ffff', color0: '#ff0000', borderColor: '#00ffff', borderColor0: '#ff0000', borderWidth: 1 },
          emphasis: { disabled: true },
          markLine: {
            silent: true, animation: false, symbol: ['none', 'none'], emphasis: { disabled: true },
            label: { show: false },
            lineStyle: { type: 'solid' },
            data: [
              [
                { coord: [cat(downTrend[0][0]), downTrend[0][1]], lineStyle: { color: '#ff0000', width: 4, type: 'solid' } },
                { coord: [cat(downTrend[1][0]), downTrend[1][1]] },
              ],
              [
                { coord: [cat(upTrend[0][0]), upTrend[0][1]], lineStyle: { color: '#e6f01c', width: 4.5, type: 'solid' } },
                { coord: [cat(upTrend[1][0]), upTrend[1][1]], symbol: 'triangle', symbolSize: [16, 20] },
              ],
            ],
          },
        },
        {
          type: 'bar', name: 'Histogram', xAxisIndex: 1, yAxisIndex: 1, data: histData, barWidth: 3,
          emphasis: { disabled: true },
        },
        {
          type: 'line', name: 'MACD', xAxisIndex: 1, yAxisIndex: 1,
          data: macdMain.map(([i, v]) => [cat(i), v]), showSymbol: false, symbol: 'none', smooth: 0.35,
          lineStyle: { color: '#0000ff', width: 2 }, emphasis: { disabled: true },
          markLine: {
            silent: true, animation: false, symbol: ['none', 'none'], label: { show: false }, emphasis: { disabled: true },
            data: [
              [
                { coord: [cat(macdArrow[0][0]), macdArrow[0][1]], lineStyle: { color: '#ff1030', width: 4, type: 'solid' } },
                { coord: [cat(macdArrow[1][0]), macdArrow[1][1]], symbol: 'triangle', symbolSize: [14, 16] },
              ],
            ],
          },
        },
        {
          type: 'line', name: 'Signal', xAxisIndex: 1, yAxisIndex: 1,
          data: macdSignal.map(([i, v]) => [cat(i), v]), showSymbol: false, symbol: 'none', smooth: 0.35,
          lineStyle: { color: '#ff0000', width: 1 }, emphasis: { disabled: true },
        },
      ],
      graphic: [
        { type: 'rect', silent: true, z: 100, shape: { x: 0, y: 0, width: 1680, height: 2 }, style: { fill: '#8c8c8c' } },
        { type: 'rect', silent: true, z: 100, shape: { x: 0, y: 0, width: 2, height: 806 }, style: { fill: '#8c8c8c' } },
        { type: 'rect', silent: true, z: 100, shape: { x: 0, y: 803, width: 1680, height: 3 }, style: { fill: '#8c8c8c' } },
        { type: 'rect', silent: true, z: 100, shape: { x: 3.5, y: 4.5, width: 1620, height: 605 }, style: { fill: 'none', stroke: '#ffffff', lineWidth: 1 } },
        { type: 'rect', silent: true, z: 100, shape: { x: 3.5, y: 611.5, width: 1620, height: 169 }, style: { fill: 'none', stroke: '#ffffff', lineWidth: 1 } },
        { type: 'polygon', silent: true, z: 100, shape: { points: [[8, 12], [17, 12], [12.5, 17]] }, style: { fill: '#ffffff' } },
        { type: 'text', silent: true, z: 100, x: 24, y: 15, style: { text: 'EURAUD,H1', fill: '#ffffff', font: `11px ${FONT}`, verticalAlign: 'middle' } },
        {
          type: 'text', silent: true, z: 100, x: 844, y: 51, scaleY: 1.2,
          style: { text: 'WWW.HOMETRADERCLUB.COM', fill: '#1ee61e', font: 'bold 28px "DejaVu Sans Mono", "Liberation Mono", monospace', align: 'center', verticalAlign: 'middle' },
        },
        { type: 'text', silent: true, z: 100, x: 9, y: 623, style: { text: 'MACD(12,26,9) 0.000359 -0.000259 0.000618 0.000000', fill: '#ffffff', font: `11px ${FONT}`, verticalAlign: 'middle' } },
        { type: 'polygon', silent: true, z: 100, shape: { points: [[4, 772], [4, 780], [11, 780]] }, style: { fill: '#8c8c8c' } },
      ],
    };

    chart.setOption(option);
    return () => chart.dispose();
  }, []);

  return <div ref={ref} style={{ position: 'fixed', left: 0, top: 0, width: 1680, height: 806, background: '#000' }} />;
}
